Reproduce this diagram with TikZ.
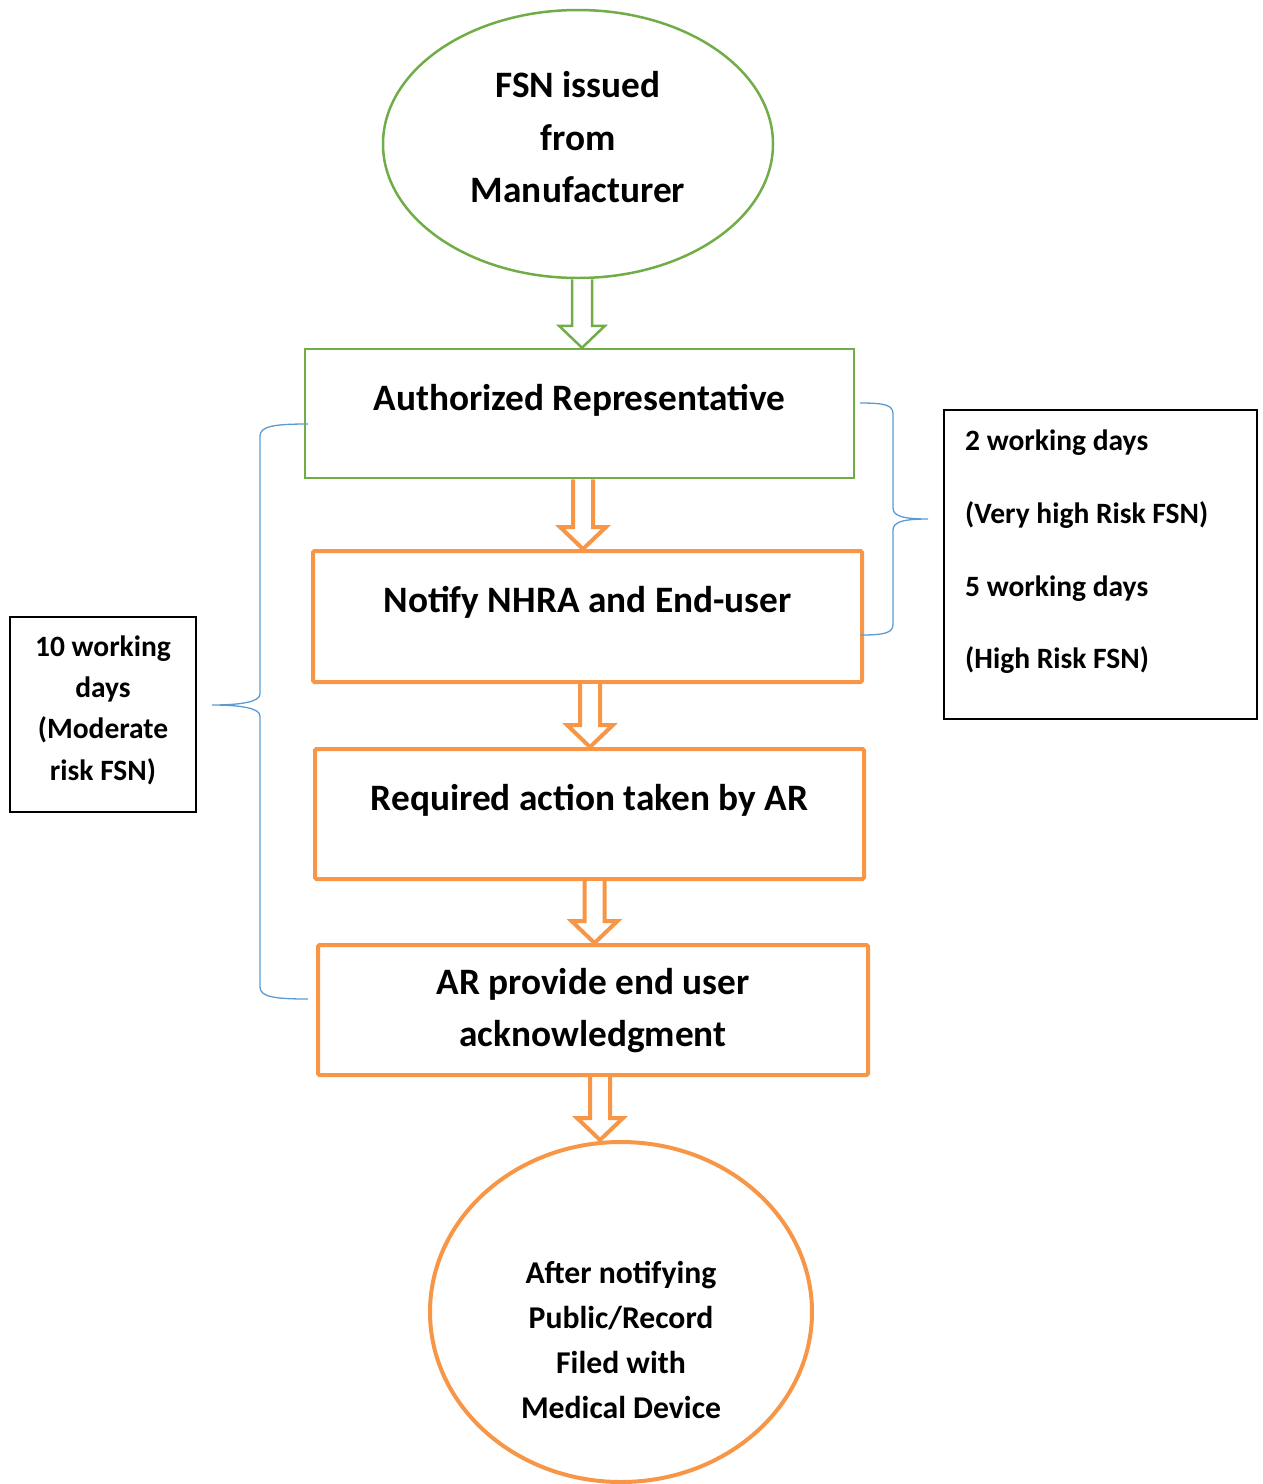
\documentclass[tikz,border=0pt]{standalone}
\usepackage{fontspec}
\setmainfont{Carlito}
\usetikzlibrary{shapes.geometric,calc}
\definecolor{cgreen}{HTML}{70AD47}
\definecolor{corange}{HTML}{F79646}
\definecolor{cblue}{HTML}{5B9BD5}
\newcommand\blockarrow[4]{%
  \draw[#4] let \p1=($(#1.south)+(#3,0)$), \p2=(#2.north) in
    (\x1-10pt,\y1) -- (\x1-10pt,\y2+22pt) -- (\x1-23pt,\y2+22pt) -- (\x1,\y2)
    -- (\x1+23pt,\y2+22pt) -- (\x1+10pt,\y2+22pt) -- (\x1+10pt,\y1);
}
\begin{document}
\begin{tikzpicture}[x=1pt,y=-1pt,
  gbox/.style={draw=cgreen, line width=2.5pt, rectangle, inner sep=0pt},
  obox/.style={draw=corange, line width=4pt, rectangle, inner sep=0pt, rounded corners=1.5pt},
  sbox/.style={draw=black, line width=2pt, rectangle, inner sep=0pt},
  big/.style={font=\fontsize{37.3}{52.5}\selectfont\bfseries, align=center, inner sep=0pt},
  mid/.style={font=\fontsize{31.7}{45}\selectfont\bfseries, align=center, inner sep=0pt},
  small/.style={font=\fontsize{29.5}{41.3}\selectfont\bfseries, inner sep=0pt},
  brace/.style={draw=cblue, line width=1.3pt},
  garrow/.style={draw=cgreen, line width=2.5pt, fill=white, line join=miter},
  oarrow/.style={draw=corange, line width=4pt, fill=white, line join=miter},
]
\useasboundingbox (0,0) rectangle (1262,1484);

% shapes
\node[ellipse, draw=cgreen, line width=2.5pt, minimum width=390, minimum height=268, inner sep=0pt] (fsn) at (578,144) {};
\node[gbox, minimum width=549, minimum height=129] (ar) at (579.5,413.5) {};
\node[obox, minimum width=549, minimum height=131] (notify) at (587.5,616.5) {};
\node[obox, minimum width=549, minimum height=130] (action) at (589.5,814) {};
\node[obox, minimum width=550, minimum height=130] (ack) at (593,1010) {};
\node[ellipse, draw=corange, line width=4pt, minimum width=382, minimum height=340, inner sep=0pt] (final) at (621,1312) {};
\node[sbox, minimum width=313, minimum height=309] (rbox) at (1100.5,564.5) {};
\node[sbox, minimum width=186, minimum height=195] (lbox) at (103,714.5) {};

% texts
\node[big] (fsnT) at (578,137.5) {FSN issued\\from\\Manufacturer};
\node[big] (arT) at (579.5,400) {Authorized Representative};
\node[big] (notifyT) at (587.5,602) {Notify NHRA and End-user};
\node[big] (actionT) at (589.5,800) {Required action taken by AR};
\node[big] (ackT) at (593,1010.5) {AR provide end user\\acknowledgment};
\node[mid] (finalT) at (621,1339.5) {After notifying\\Public/Record\\Filed with\\Medical Device};
\node[small, font=\fontsize{29.5}{72.6}\selectfont\bfseries, align=left, anchor=west] (rboxT) at (965,552)
  {2 working days\\(Very high Risk FSN)\\5 working days\\(High Risk FSN)};
\node[small, align=center] (lboxT) at (103,710) {10 working\\days\\(Moderate\\risk FSN)};

% block arrows
\blockarrow{fsn}{ar}{4}{garrow}
\blockarrow{ar}{notify}{3.5}{oarrow}
\blockarrow{notify}{action}{2.5}{oarrow}
\blockarrow{action}{ack}{5}{oarrow}
\blockarrow{ack}{final}{7}{oarrow}

% braces
\coordinate (rb1) at (860,403);
\coordinate (rb2) at (860,635);
\coordinate (rbtip) at (928,519);
\draw[brace] (rb1) .. controls (885,403) and (893,405) .. (893,414) -- (893,508)
  .. controls (893,516) and (903,519) .. (rbtip)
  .. controls (903,519) and (893,522) .. (893,530) -- (893,624)
  .. controls (893,633) and (885,635) .. (rb2);
\coordinate (lb1) at (308,424);
\coordinate (lb2) at (308,999);
\coordinate (lbtip) at (212,705);
\draw[brace] (lb1) .. controls (275,424) and (260,426) .. (260,436) -- (260,694)
  .. controls (260,702) and (240,705) .. (lbtip)
  .. controls (240,705) and (260,708) .. (260,716) -- (260,987)
  .. controls (260,997) and (275,999) .. (lb2);
\end{tikzpicture}
\end{document}
